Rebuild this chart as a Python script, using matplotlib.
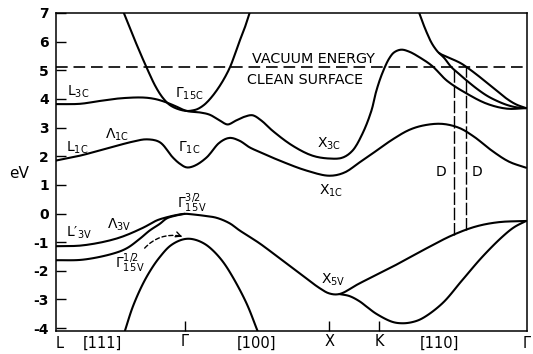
import numpy as np
import matplotlib
matplotlib.use("Agg")
import matplotlib.pyplot as plt

plt.rcParams['font.family'] = ['DejaVu Sans']
plt.rcParams['mathtext.fontset'] = 'dejavusans'
plt.rcParams['mathtext.default'] = 'regular'
plt.rcParams['axes.unicode_minus'] = False

# ---- data (k along L-Gamma-X-K-Gamma path, energy in eV) ----
kA = [0, 0.24, 0.44, 0.64, 0.87, 0.99, 1.09, 1.19, 1.31, 1.44, 1.54, 1.64, 1.72, 1.80, 1.89, 1.97,
      2.06, 2.17, 2.37, 2.57, 2.74, 2.87, 2.97, 3.07, 3.16, 3.21, 3.27, 3.34, 3.39, 3.46, 3.54,
      3.64, 3.77, 3.92, 4.12, 4.32, 4.52, 4.71]
eA = [3.82, 3.83, 3.93, 4.02, 4.05, 4.00, 3.90, 3.76, 3.58, 3.53, 3.45, 3.25, 3.11, 3.24, 3.38, 3.43,
      3.24, 2.89, 2.37, 2.02, 1.92, 1.95, 2.19, 2.78, 3.58, 4.28, 4.90, 5.42, 5.63, 5.72, 5.65,
      5.46, 5.15, 4.63, 4.18, 3.83, 3.66, 3.68]

kB = [0.68, 0.79, 0.91, 1.00, 1.07, 1.14, 1.22, 1.31, 1.37, 1.42, 1.49, 1.57, 1.66, 1.74, 1.79, 1.84, 1.89, 1.94]
eB = [7.0, 6.05, 5.08, 4.42, 4.04, 3.79, 3.65, 3.58, 3.60, 3.65, 3.81, 4.11, 4.56, 5.08, 5.53, 6.02, 6.47, 7.0]

kC1 = [3.64, 3.68, 3.72, 3.76, 3.80, 3.84, 3.91, 3.99, 4.06, 4.12, 4.22, 4.32, 4.42, 4.52, 4.61, 4.71]
eC1 = [7.0, 6.62, 6.28, 5.98, 5.76, 5.60, 5.48, 5.36, 5.24, 5.10, 4.84, 4.56, 4.28, 4.00, 3.81, 3.68]
kC2 = [3.84, 3.89, 3.96, 4.04, 4.12, 4.22, 4.32, 4.42, 4.52, 4.61, 4.71]
eC2 = [5.60, 5.43, 5.12, 4.87, 4.63, 4.35, 4.11, 3.93, 3.79, 3.71, 3.68]

kL1 = [0, 0.24, 0.54, 0.77, 0.91, 1.04, 1.17, 1.24, 1.31, 1.39, 1.51, 1.64, 1.74, 1.84, 1.94, 2.04,
       2.24, 2.51, 2.74, 2.89, 3.04, 3.21, 3.37, 3.54, 3.69, 3.87, 4.04, 4.19, 4.37, 4.54, 4.71]
eL1 = [1.85, 2.02, 2.30, 2.51, 2.59, 2.49, 1.96, 1.74, 1.61, 1.67, 1.96, 2.48, 2.64, 2.54, 2.31, 2.15,
       1.85, 1.50, 1.32, 1.43, 1.78, 2.19, 2.58, 2.92, 3.08, 3.13, 2.99, 2.68, 2.19, 1.81, 1.60]

kV1 = [0, 0.27, 0.61, 0.87, 1.01, 1.11, 1.21, 1.29, 1.37, 1.49, 1.61, 1.74, 1.84, 2.04, 2.24, 2.44,
       2.64, 2.74, 2.84, 3.04, 3.37, 3.71, 3.97, 4.21, 4.44, 4.71]
eV1 = [-1.14, -1.11, -0.87, -0.50, -0.24, -0.13, -0.05, -0.01, -0.03, -0.08, -0.15, -0.34, -0.59, -1.04, -1.56, -2.08,
       -2.60, -2.79, -2.81, -2.44, -1.86, -1.22, -0.76, -0.45, -0.30, -0.26]

kV2 = [0, 0.27, 0.57, 0.71, 0.84, 0.94, 1.04, 1.11, 1.19, 1.29]
eV2 = [-1.63, -1.61, -1.40, -1.21, -0.88, -0.59, -0.36, -0.17, -0.08, -0.01]

kV3 = [2.84, 2.94, 3.04, 3.12, 3.21, 3.37, 3.47, 3.57, 3.67, 3.87, 4.07, 4.27, 4.47, 4.59, 4.71]
eV3 = [-2.81, -2.88, -3.06, -3.27, -3.50, -3.78, -3.83, -3.79, -3.66, -3.14, -2.33, -1.52, -0.82, -0.48, -0.26]

kV4 = [0.69, 0.77, 0.87, 0.96, 1.04, 1.14, 1.24, 1.32, 1.40, 1.49, 1.57, 1.67, 1.77, 1.91, 2.02]
eV4 = [-4.10, -3.25, -2.46, -1.91, -1.52, -1.14, -0.94, -0.88, -0.92, -1.06, -1.28, -1.67, -2.21, -3.14, -4.10]

vacuum_energy = 5.1
d_k = [3.99, 4.11]

sym_k = [1.29, 2.74, 3.24]
sym_labels = ['Γ', 'X', 'K']
dir_k = [0.04, 0.46, 2.01, 3.84, 4.72]
dir_labels = ['L', '[111]', '[100]', '[110]', 'Γ']
yticks = list(range(-4, 8))


def smooth_path(k, e, n=10):
    """Centripetal Catmull-Rom curve through the given points (drawing only)."""
    sx, sy = 100.0, 28.77
    P = np.column_stack([np.asarray(k, float) * sx, np.asarray(e, float) * sy])
    P = np.vstack([2 * P[0] - P[1], P, 2 * P[-1] - P[-2]])
    out = [P[1]]
    for i in range(1, len(P) - 2):
        p0, p1, p2, p3 = P[i - 1], P[i], P[i + 1], P[i + 2]
        t0 = 0.0
        t1 = t0 + np.linalg.norm(p1 - p0) ** 0.5
        t2 = t1 + np.linalg.norm(p2 - p1) ** 0.5
        t3 = t2 + np.linalg.norm(p3 - p2) ** 0.5
        t = np.linspace(t1, t2, n)[1:, None]
        A1 = (t1 - t) / (t1 - t0) * p0 + (t - t0) / (t1 - t0) * p1
        A2 = (t2 - t) / (t2 - t1) * p1 + (t - t1) / (t2 - t1) * p2
        A3 = (t3 - t) / (t3 - t2) * p2 + (t - t2) / (t3 - t2) * p3
        B1 = (t2 - t) / (t2 - t0) * A1 + (t - t0) / (t2 - t0) * A2
        B2 = (t3 - t) / (t3 - t1) * A2 + (t - t1) / (t3 - t1) * A3
        C = (t2 - t) / (t2 - t1) * B1 + (t - t1) / (t2 - t1) * B2
        out.extend(C)
    out = np.array(out)
    return out[:, 0] / sx, out[:, 1] / sy


# ---- figure ----
fig = plt.figure(figsize=(5.33, 3.54), dpi=100)
ax = fig.add_axes([56/533, 1-331/354, 471/533, 318/354])
ax.set_xlim(0, 4.71)
ax.set_ylim(-4.1, 7.0)

lw = 1.5
for k, e in [(kA, eA), (kB, eB), (kC1, eC1), (kC2, eC2), (kL1, eL1),
             (kV1, eV1), (kV2, eV2), (kV3, eV3), (kV4, eV4)]:
    xs, ys = smooth_path(k, e)
    ax.plot(xs, ys, color='black', lw=lw, solid_joinstyle='round', solid_capstyle='round')

ax.axhline(vacuum_energy, color='black', lw=1.2, dashes=(7, 3.5))
for kd in d_k:
    ebot = np.interp(kd, kV1, eV1)
    ax.plot([kd, kd], [ebot, vacuum_energy], color='black', lw=1.0, dashes=(9, 2))

# dashed arrow
ax.annotate('', xy=(1.27, -0.80), xytext=(0.87, -1.28),
            arrowprops=dict(arrowstyle='-', lw=1.0, linestyle=(0, (3, 2)),
                            connectionstyle='arc3,rad=-0.3', color='black'))
ax.annotate('', xy=(1.29, -0.84), xytext=(1.22, -0.75),
            arrowprops=dict(arrowstyle='->', lw=1.0, color='black', mutation_scale=9))

fs = 10
def lab(txt, k, e, ha='left', size=fs):
    ax.text(k, e, txt, ha=ha, va='baseline', fontsize=size, clip_on=False)

lab(r'$L_{3C}$', 0.11, 4.11)
lab(r'$\Gamma_{15C}$', 1.19, 4.04)
lab('VACUUM ENERGY', 1.96, 5.25, size=10.3)
lab('CLEAN SURFACE', 1.91, 4.52, size=10.3)
lab(r'$L_{1C}$', 0.10, 2.16)
lab(r'$\Lambda_{1C}$', 0.49, 2.63)
lab(r'$\Gamma_{1C}$', 1.22, 2.16)
lab(r'$X_{3C}$', 2.62, 2.30)
lab(r'$X_{1C}$', 2.64, 0.66)
lab('D', 3.86, 1.32, ha='center')
lab('D', 4.22, 1.32, ha='center')
lab(r"$L\prime_{3V}$", 0.10, -0.80)
lab(r'$\Lambda_{3V}$', 0.51, -0.52)
lab(r'$\Gamma^{3/2}_{15\,V}$', 1.21, 0.21)
lab(r'$\Gamma^{1/2}_{15\,V}$', 0.59, -1.91)
lab(r'$X_{5V}$', 2.66, -2.43)
ax.text(-0.37, 1.39, 'eV', ha='center', va='center', fontsize=11, clip_on=False)

# axes styling
for s in ax.spines.values():
    s.set_linewidth(1.1)
ax.set_yticks(yticks)
ax.set_yticklabels([str(v) for v in yticks], fontweight='bold', fontsize=10)
ax.tick_params(axis='y', direction='in', length=7, width=1.0, pad=5)
ax.set_xticks(sym_k)
ax.set_xticklabels(sym_labels, fontsize=10.5)
ax.set_xticks(dir_k, minor=True)
ax.set_xticklabels(dir_labels, minor=True, fontsize=10.5)
ax.tick_params(axis='x', which='major', direction='in', length=7, width=1.0, pad=2.5)
ax.tick_params(axis='x', which='minor', length=0, pad=3.5)
ax.tick_params(axis='y', which='minor', length=0)

fig.savefig('out.png', dpi=100)
